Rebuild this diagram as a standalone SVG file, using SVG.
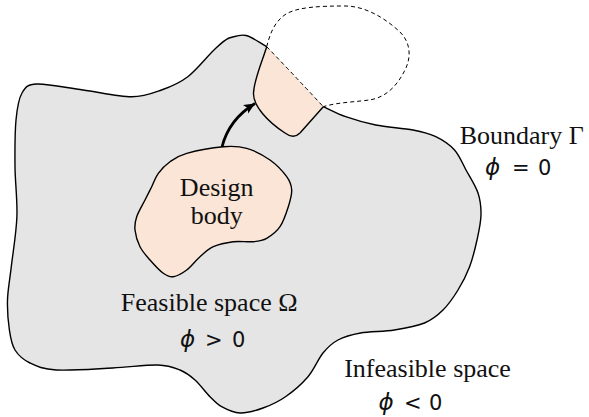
<svg xmlns="http://www.w3.org/2000/svg" width="589" height="417" viewBox="0 0 589 417">
<style>
.outline{stroke:#000;stroke-width:1.4;fill:none;stroke-linejoin:round}
.dash{stroke:#000;stroke-width:1;fill:none;stroke-dasharray:4 3}
.gray{fill:#e5e5e5;stroke:none}
.peach{fill:#fbe5d6;stroke:none}
.lbl{font-family:"Liberation Serif","Times New Roman",serif;font-size:26px;fill:#111}
.math{font-family:"DejaVu Sans","Liberation Sans",sans-serif;font-size:21px;fill:#111}
.it{font-style:italic;font-size:23px}
</style>
<defs>
<marker id="ah" markerUnits="userSpaceOnUse" markerWidth="14" markerHeight="12" refX="11" refY="5" orient="auto">
<path d="M11,5 L0,0 L2.5,5 L0,10 Z" fill="#000"/>
</marker>
</defs>
<rect width="589" height="417" fill="#fff"/>
<g id="feasible-space">
<path class="gray" d="M323.3,106.7 C330.7,110 336.87,113.65 345.6,116.7 C354.33,119.75 364.47,122.78 375.7,125 C386.93,127.22 402.98,128.05 413,130 C423.02,131.95 428.88,133.37 435.8,136.7 C442.72,140.03 449.47,144.45 454.5,150 C459.53,155.55 462.08,162.83 466,170 C469.92,177.17 475.5,185.5 478,193 C480.5,200.5 481.17,207.17 481,215 C480.83,222.83 478.9,231.38 477,240 C475.1,248.62 472.77,258.37 469.6,266.7 C466.43,275.03 462.43,282.78 458,290 C453.57,297.22 448.58,304.5 443,310 C437.42,315.5 432.6,319.67 424.5,323 C416.4,326.33 405.05,328.33 394.4,330 C383.75,331.67 370,331.33 360.6,333 C351.2,334.67 344.27,336.67 338,340 C331.73,343.33 328,346.88 323,353 C318,359.12 314.25,369.42 308,376.7 C301.75,383.98 293,391.48 285.5,396.7 C278,401.92 270.58,405.28 263,408 C255.42,410.72 246.9,413.22 240,413 C233.1,412.78 226.6,409.42 221.6,406.7 C216.6,403.98 214.43,401.15 210,396.7 C205.57,392.25 200,384.45 195,380 C190,375.55 186.2,372.5 180,370 C173.8,367.5 169.02,365.33 157.8,365 C146.58,364.67 129.62,367.17 112.7,368 C95.78,368.83 70.08,370.83 56.3,370 C42.52,369.17 36.88,366.33 30,363 C23.12,359.67 18.43,355.5 15,350 C11.57,344.5 10.65,338.33 9.4,330 C8.15,321.67 7.18,310.55 7.5,300 C7.82,289.45 9.73,280.58 11.3,266.7 C12.87,252.82 16.28,233.37 16.9,216.7 C17.52,200.03 15.15,182.82 15,166.7 C14.85,150.58 14.83,132.28 16,120 C17.17,107.72 18.5,99 22,93 C25.5,87 26.83,84.5 37,84 C47.17,83.5 67.25,87.88 83,90 C98.75,92.12 118.42,96.7 131.5,96.7 C144.58,96.7 152.12,93.33 161.5,90 C170.88,86.67 179.05,83.37 187.8,76.7 C196.55,70.03 207.13,56.45 214,50 C220.87,43.55 223.67,40.42 229,38 C235.28,36.55 239.72,34.05 246,35.5 C252.28,36.95 259.8,42.97 266.7,46.7 Z"/>
<path class="outline" d="M323.3,106.7 C330.7,110 336.87,113.65 345.6,116.7 C354.33,119.75 364.47,122.78 375.7,125 C386.93,127.22 402.98,128.05 413,130 C423.02,131.95 428.88,133.37 435.8,136.7 C442.72,140.03 449.47,144.45 454.5,150 C459.53,155.55 462.08,162.83 466,170 C469.92,177.17 475.5,185.5 478,193 C480.5,200.5 481.17,207.17 481,215 C480.83,222.83 478.9,231.38 477,240 C475.1,248.62 472.77,258.37 469.6,266.7 C466.43,275.03 462.43,282.78 458,290 C453.57,297.22 448.58,304.5 443,310 C437.42,315.5 432.6,319.67 424.5,323 C416.4,326.33 405.05,328.33 394.4,330 C383.75,331.67 370,331.33 360.6,333 C351.2,334.67 344.27,336.67 338,340 C331.73,343.33 328,346.88 323,353 C318,359.12 314.25,369.42 308,376.7 C301.75,383.98 293,391.48 285.5,396.7 C278,401.92 270.58,405.28 263,408 C255.42,410.72 246.9,413.22 240,413 C233.1,412.78 226.6,409.42 221.6,406.7 C216.6,403.98 214.43,401.15 210,396.7 C205.57,392.25 200,384.45 195,380 C190,375.55 186.2,372.5 180,370 C173.8,367.5 169.02,365.33 157.8,365 C146.58,364.67 129.62,367.17 112.7,368 C95.78,368.83 70.08,370.83 56.3,370 C42.52,369.17 36.88,366.33 30,363 C23.12,359.67 18.43,355.5 15,350 C11.57,344.5 10.65,338.33 9.4,330 C8.15,321.67 7.18,310.55 7.5,300 C7.82,289.45 9.73,280.58 11.3,266.7 C12.87,252.82 16.28,233.37 16.9,216.7 C17.52,200.03 15.15,182.82 15,166.7 C14.85,150.58 14.83,132.28 16,120 C17.17,107.72 18.5,99 22,93 C25.5,87 26.83,84.5 37,84 C47.17,83.5 67.25,87.88 83,90 C98.75,92.12 118.42,96.7 131.5,96.7 C144.58,96.7 152.12,93.33 161.5,90 C170.88,86.67 179.05,83.37 187.8,76.7 C196.55,70.03 207.13,56.45 214,50 C220.87,43.55 223.67,40.42 229,38 C235.28,36.55 239.72,34.05 246,35.5 C252.28,36.95 259.8,42.97 266.7,46.7"/>
</g>
<g id="moved-body">
<path class="peach" d="M266.7,46.7 C262,62 254,80 253.5,93 C253,106 268,122 285,133 C291,137.5 295.5,137.5 300,133 L323.3,106.7 Q294,75 266.7,46.7 Z"/>
<path class="outline" d="M266.7,46.7 C262,62 254,80 253.5,93 C253,106 268,122 285,133 C291,137.5 295.5,137.5 300,133 L323.3,106.7"/>
<path class="dash" d="M266.7,46.7 Q294,75 323.3,106.7"/>
</g>
<g id="outside-part">
<path class="dash" d="M266.7,46.7 C270,34 274,22 286,14 C298,7 320,6 345,6 C365,6 385,18 400,32 C410,42 412,56 405,70 C398,84 388,96 372,99.5 C358,102 338,102 323.3,106.7"/>
</g>
<g id="design-body">
<path class="peach" d="M223.3,146.7 C233.3,145.87 238.92,146.08 246.7,148.3 C254.48,150.52 263.33,155.27 270,160 C276.67,164.73 283.08,171.7 286.7,176.7 C290.32,181.7 291.43,185 291.7,190 C291.97,195 290.25,200.58 288.3,206.7 C286.35,212.82 283.6,221.43 280,226.7 C276.4,231.97 271.15,235.8 266.7,238.3 C262.25,240.8 258.87,241.13 253.3,241.7 C247.73,242.27 239.97,240.87 233.3,241.7 C226.63,242.53 218.85,244.2 213.3,246.7 C207.75,249.2 204.43,252.82 200,256.7 C195.57,260.58 191.15,266.67 186.7,270 C182.25,273.33 177.2,276.15 173.3,276.7 C169.4,277.25 167.18,276.08 163.3,273.3 C159.42,270.52 153.88,264.43 150,260 C146.12,255.57 142.5,251.7 140,246.7 C137.5,241.7 135.55,235 135,230 C134.45,225 135.03,221.7 136.7,216.7 C138.37,211.7 142.5,205 145,200 C147.5,195 149.48,191.15 151.7,186.7 C153.92,182.25 155.25,177.47 158.3,173.3 C161.35,169.13 165.27,165.03 170,161.7 C174.73,158.37 177.82,155.8 186.7,153.3 C195.58,150.8 213.3,147.53 223.3,146.7 Z"/>
<path class="outline" d="M223.3,146.7 C233.3,145.87 238.92,146.08 246.7,148.3 C254.48,150.52 263.33,155.27 270,160 C276.67,164.73 283.08,171.7 286.7,176.7 C290.32,181.7 291.43,185 291.7,190 C291.97,195 290.25,200.58 288.3,206.7 C286.35,212.82 283.6,221.43 280,226.7 C276.4,231.97 271.15,235.8 266.7,238.3 C262.25,240.8 258.87,241.13 253.3,241.7 C247.73,242.27 239.97,240.87 233.3,241.7 C226.63,242.53 218.85,244.2 213.3,246.7 C207.75,249.2 204.43,252.82 200,256.7 C195.57,260.58 191.15,266.67 186.7,270 C182.25,273.33 177.2,276.15 173.3,276.7 C169.4,277.25 167.18,276.08 163.3,273.3 C159.42,270.52 153.88,264.43 150,260 C146.12,255.57 142.5,251.7 140,246.7 C137.5,241.7 135.55,235 135,230 C134.45,225 135.03,221.7 136.7,216.7 C138.37,211.7 142.5,205 145,200 C147.5,195 149.48,191.15 151.7,186.7 C153.92,182.25 155.25,177.47 158.3,173.3 C161.35,169.13 165.27,165.03 170,161.7 C174.73,158.37 177.82,155.8 186.7,153.3 C195.58,150.8 213.3,147.53 223.3,146.7 Z"/>
<text class="lbl" x="216.7" y="196" text-anchor="middle">Design</text>
<text class="lbl" x="216.7" y="224.3" text-anchor="middle">body</text>
</g>
<g id="connectors">
<path d="M222,147 C226,131 236,115 255,103.5" fill="none" stroke="#000" stroke-width="2.8" marker-end="url(#ah)"/>
</g>
<g id="labels">
<text class="lbl" x="209.2" y="310.7" text-anchor="middle">Feasible space Ω</text>
<text class="math" y="346.5"><tspan x="180" class="it">ϕ</tspan><tspan x="205">&gt;</tspan><tspan x="232">0</tspan></text>
<text class="lbl" x="521.7" y="144" text-anchor="middle">Boundary Γ</text>
<text class="math" y="175"><tspan x="485" class="it">ϕ</tspan><tspan x="512">=</tspan><tspan x="538">0</tspan></text>
<text class="lbl" x="427.5" y="376.7" text-anchor="middle">Infeasible space</text>
<text class="math" y="410"><tspan x="378.5" class="it">ϕ</tspan><tspan x="404">&lt;</tspan><tspan x="429">0</tspan></text>
</g>
</svg>
